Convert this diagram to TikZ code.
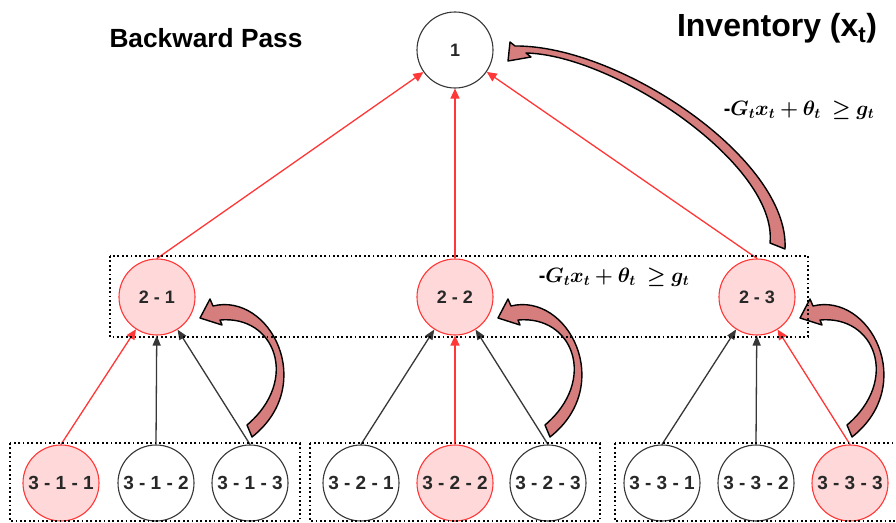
\documentclass[tikz,border=0pt]{standalone}
\usepackage{fontspec}
\setmainfont{Liberation Sans}
\usepackage{bm}
\usetikzlibrary{arrows.meta}
\definecolor{lred}{RGB}{255,55,55}
\definecolor{pinkf}{RGB}{255,217,217}
\definecolor{ngray}{RGB}{55,55,55}
\definecolor{tgray}{RGB}{40,40,40}
\definecolor{afill}{RGB}{214,125,125}
\begin{document}
\begin{tikzpicture}[x=1pt,y=-1pt,
  nd/.style={circle,draw=ngray,fill=white,line width=1.1pt,minimum size=76pt,inner sep=0pt,text=tgray,font=\fontsize{19}{19}\selectfont\bfseries},
  rnd/.style={nd,draw=lred,fill=pinkf},
  redc/.style={draw=lred,line width=1.3pt,-{Triangle[length=10pt,width=9pt]}},
  blkc/.style={draw=ngray,line width=1.3pt,-{Triangle[length=10pt,width=8pt]}},
  dbox/.style={draw=black,line width=1.8pt,dash pattern=on 1.8pt off 2.6pt},
  carrow/.style={fill=afill,draw=black,line width=1.4pt,line join=round}]
\clip (0,0) rectangle (896,522);
\fill[white] (0,0) rectangle (896,522);

% nodes
\node[nd,font=\fontsize{18}{18}\selectfont\bfseries] (n1) at (455,50) {1};
\node[rnd,font=\fontsize{18}{18}\selectfont\bfseries] (n21) at (157,297) {2 - 1};
\node[rnd,font=\fontsize{18}{18}\selectfont\bfseries] (n22) at (455,297) {2 - 2};
\node[rnd,font=\fontsize{18}{18}\selectfont\bfseries] (n23) at (757,297) {2 - 3};
\node[rnd] (n311) at (61,483) {3 - 1 - 1};
\node[nd]  (n312) at (156,483) {3 - 1 - 2};
\node[nd]  (n313) at (250,483) {3 - 1 - 3};
\node[nd]  (n321) at (361,483) {3 - 2 - 1};
\node[rnd] (n322) at (455,483) {3 - 2 - 2};
\node[nd]  (n323) at (548,483) {3 - 2 - 3};
\node[nd]  (n331) at (662,483) {3 - 3 - 1};
\node[nd]  (n332) at (756,483) {3 - 3 - 2};
\node[rnd] (n333) at (850,483) {3 - 3 - 3};

% connectors
\draw[redc] (n21.north) -- (n1);
\draw[redc] (n22.north) -- (n1);
\draw[redc] (n23.north) -- (n1);
\draw[redc] (n311.north) -- (n21);
\draw[blkc] (n312.north) -- (n21);
\draw[blkc] (n313.north) -- (n21);
\draw[blkc] (n321.north) -- (n22);
\draw[redc] (n322.north) -- (n22);
\draw[blkc] (n323.north) -- (n22);
\draw[blkc] (n331.north) -- (n23);
\draw[blkc] (n332.north) -- (n23);
\draw[redc] (n333.north) -- (n23);

% curved block arrows
\path[carrow] (515,46) .. controls (620,45) and (790,160) .. (785,249) -- (770,243)
  .. controls (778,165) and (615,55) .. (526,53) -- (531,57) -- (508,61) -- (510,42) -- cycle;
\foreach \dx in {0,298,600}{
  \begin{scope}[xshift=\dx pt]
  \path[carrow] (213,306) .. controls (270,292) and (318,385) .. (252,437) -- (247,425)
    .. controls (300,380) and (275,315) .. (220,320) -- (222,325) -- (200,318) -- (210,299) -- cycle;
  \end{scope}
}

% dotted boxes
\draw[dbox] (110,256) rectangle (808,337);
\draw[dbox] (10,443) rectangle (300,521);
\draw[dbox] (310,443) rectangle (600,521);
\draw[dbox] (615,443) rectangle (905,521);

% labels
\node[font=\fontsize{26.3}{26.3}\selectfont\bfseries,anchor=base] (bp) at (206,47) {Backward Pass};
\node[font=\fontsize{32}{32}\selectfont\bfseries,anchor=base] (inv) at (777,36) {Inventory ($\mathbf{x}_{\mathbf{t}}$)};
\node[font=\fontsize{19.8}{19.8}\selectfont\bfseries] (eq1) at (799,110) {-$\bm{G_t x_t + \theta_t\ \geq g_t}$};
\node[font=\fontsize{19.8}{19.8}\selectfont\bfseries] (eq2) at (614,277) {-$\bm{G_t x_t + \theta_t\ \geq g_t}$};
\end{tikzpicture}
\end{document}
